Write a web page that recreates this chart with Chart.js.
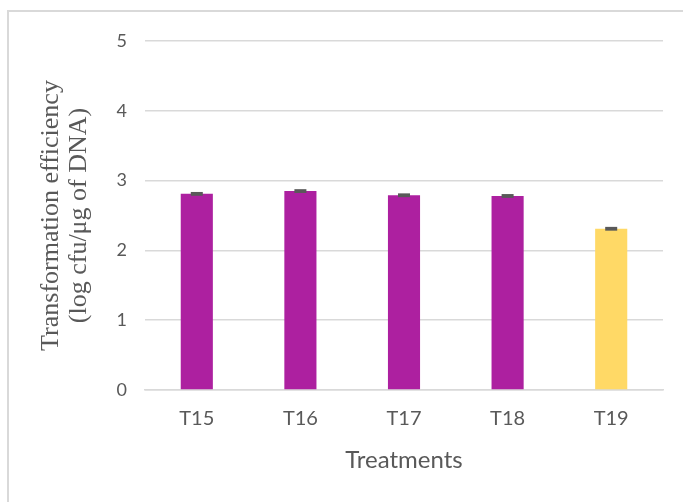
<!DOCTYPE html>
<html>
<head>
<meta charset="utf-8">
<script src="https://cdn.jsdelivr.net/npm/chart.js@4/dist/chart.umd.min.js"></script>
<style>
  html, body { margin: 0; padding: 0; background: #fff; overflow: hidden; }
  #wrap { position: relative; width: 683px; height: 502px; }
  #frame { position: absolute; left: 7px; top: 10px; width: 700px; height: 520px;
           border-left: 2px solid #d9d9d9; border-top: 2px solid #d9d9d9; box-sizing: border-box; }
  canvas { position: absolute; left: 0; top: 0; }
</style>
</head>
<body>
<div id="wrap">
  <div id="frame"></div>
  <canvas id="c" width="683" height="502"></canvas>
</div>
<script>
const categories = ["T15", "T16", "T17", "T18", "T19"];
const efficiency = [2.81, 2.85, 2.79, 2.78, 2.31];
const errors = [0.02, 0.02, 0.02, 0.02, 0.02];
const barColors = ["#AD20A0", "#AD20A0", "#AD20A0", "#AD20A0", "#FFD966"];
const yTicks = [0, 1, 2, 3, 4, 5];

// small dark error marks drawn on top of each bar
const errorBars = {
  id: "errorBars",
  afterDatasetsDraw(chart) {
    const ctx = chart.ctx;
    const meta = chart.getDatasetMeta(0);
    const y = chart.scales.y;
    ctx.save();
    ctx.fillStyle = "#595959";
    meta.data.forEach((bar, i) => {
      const top = y.getPixelForValue(efficiency[i] + errors[i]);
      const bot = y.getPixelForValue(efficiency[i] - errors[i]);
      const half = 6;
      ctx.fillRect(bar.x - half, top - 0.5, half * 2, Math.max(3, bot - top + 1));
    });
    ctx.restore();
  }
};

const sansFont = "Lato, 'Open Sans', sans-serif";

new Chart(document.getElementById("c"), {
  type: "bar",
  data: {
    labels: categories,
    datasets: [{
      data: efficiency,
      backgroundColor: barColors,
      borderWidth: 0,
      categoryPercentage: 1,
      barPercentage: 0.31
    }]
  },
  options: {
    responsive: false,
    animation: false,
    devicePixelRatio: 1,
    layout: { padding: { top: 41, right: 20, left: 37, bottom: 0 } },
    plugins: { legend: { display: false }, tooltip: { enabled: false } },
    scales: {
      x: {
        grid: { display: false, drawTicks: false },
        border: { display: true, color: "#d9d9d9", width: 1.5 },
        ticks: { color: "#595959", font: { family: sansFont, size: 20 }, padding: 17 },
        title: { display: true, text: "Treatments", color: "#595959",
                 font: { family: sansFont, size: 24 }, padding: { top: 0, bottom: 27 } },
        afterFit(scale) { scale.height = 112; }
      },
      y: {
        min: 0, max: 5,
        afterBuildTicks(scale) { scale.ticks = yTicks.map(v => ({ value: v })); },
        grid: { color: "#d9d9d9", lineWidth: 1.5, drawTicks: false },
        border: { display: false },
        ticks: { color: "#595959", font: { family: sansFont, size: 18 }, padding: 18 },
        title: { display: true, text: ["Transformation efficiency", "(log cfu/μg of DNA)"],
                 color: "#595959", font: { family: "'Liberation Serif', serif", size: 26, lineHeight: 1.08 },
                 padding: { top: 0, bottom: 10 } },
        afterFit(scale) { scale.width = 108; }
      }
    }
  },
  plugins: [errorBars]
});
</script>
</body>
</html>
